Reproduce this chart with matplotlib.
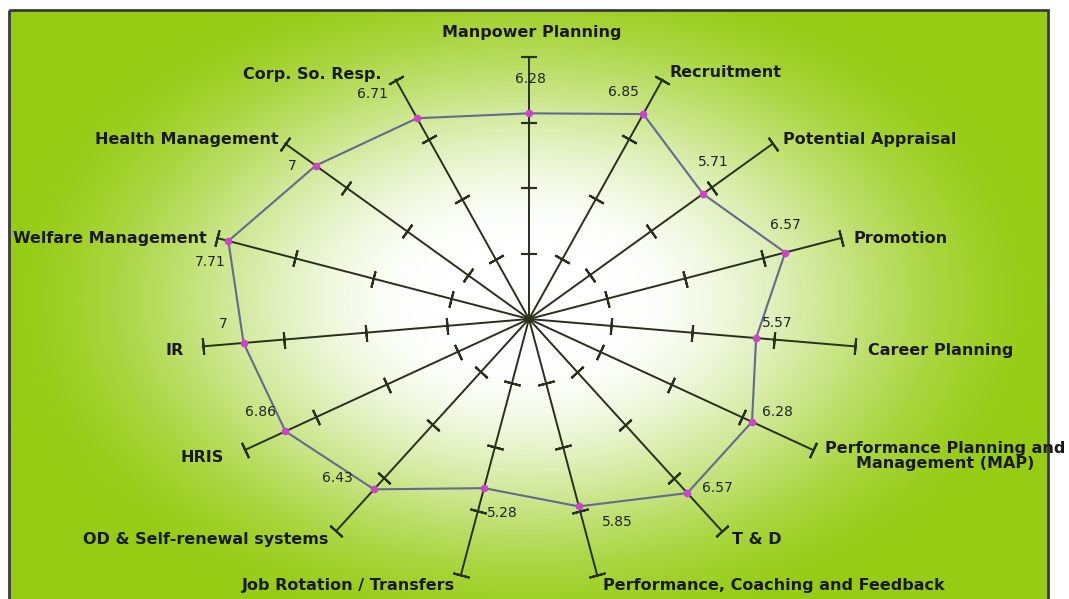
import numpy as np
import matplotlib
matplotlib.use('Agg')
import matplotlib.pyplot as plt
from matplotlib.patches import Rectangle

categories = ['Manpower Planning', 'Recruitment', 'Potential Appraisal', 'Promotion',
              'Career Planning', 'Performance Planning and\nManagement (MAP)', 'T & D',
              'Performance, Coaching and Feedback', 'Job Rotation / Transfers',
              'OD & Self-renewal systems', 'HRIS', 'IR', 'Welfare Management',
              'Health Management', 'Corp. So. Resp.']
values = [6.28, 6.85, 5.71, 6.57, 5.57, 6.28, 6.57, 5.85, 5.28, 6.43, 6.86, 7, 7.71, 7, 6.71]
value_labels = ['6.28', '6.85', '5.71', '6.57', '5.57', '6.28', '6.57', '5.85', '5.28',
                '6.43', '6.86', '7', '7.71', '7', '6.71']
r_ticks = [2, 4, 6, 8]
r_max = 8

# layout (pixels) - where the radar sits in the picture
W, H = 1069, 599
cx, cy, rx, ry = 529, 319, 328, 262

# label placement, offsets in pixels (x right, y up)
cat_off = [(3, 24, 'center'), (7, 7, 'left'), (10, 4, 'left'), (13, 0, 'left'),
           (13, -4, 'left'), (132, -6, 'center'), (10, -9, 'left'), (6, -10, 'left'),
           (-6, -10, 'right'), (-8, -9, 'right'), (-21, -7, 'right'), (-19, -4, 'right'),
           (-10, 0, 'right'), (-7, 4, 'right'), (-14, 5, 'right')]
val_off = [(1, 34), (-20, 22), (10, 32), (0, 28), (21, 15), (25, 10), (30, 5), (38, -16),
           (18, -25), (-37, 11), (-25, 19), (-20, 19), (-18, -21), (-23, 0), (-45, 24)]

fig = plt.figure(figsize=(W / 100, H / 100), dpi=100, facecolor='white')

# background: green radial gradient with a dark frame
bg = fig.add_axes([0, 0, 1, 1])
bg.set_xlim(0, W)
bg.set_ylim(H, 0)
bg.axis('off')
x0, x1, y0, y1 = 9, 1048, 10, 605
xx, yy = np.meshgrid(np.linspace(x0, x1, 400), np.linspace(y0, y1, 240))
t = np.sqrt(((xx - 525) / 600) ** 2 + ((yy - 300) / 390) ** 2)
t = np.clip((t - 0.15) / 0.75, 0, 1)
t = t * t * (3 - 2 * t)
white = np.array([1.0, 1.0, 1.0])
green = np.array([0x96, 0xCC, 0x14]) / 255
img = white[None, None, :] * (1 - t[..., None]) + green[None, None, :] * t[..., None]
bg.imshow(img, extent=(x0, x1, y1, y0), aspect='auto', interpolation='bilinear')
bg.add_patch(Rectangle((x0, y0), x1 - x0, y1 - y0, fill=False, edgecolor='#3a3a3a', lw=2))

# radar, stretched into an ellipse like the original
ax = fig.add_axes([(cx - rx) / W, (H - cy - ry) / H, 2 * rx / W, 2 * ry / H],
                  projection='polar')
ax.set_theta_zero_location('N')
ax.set_theta_direction(-1)
ax.set_aspect('auto')
ax.set_ylim(0, r_max)
ax.set_axis_off()
ax.patch.set_alpha(0)

n = len(categories)
theta = np.arange(n) * 2 * np.pi / n
axis_col = '#26301c'

for i, th in enumerate(theta):
    ax.plot([th, th], [0, r_max], color=axis_col, lw=1.4, zorder=2, clip_on=False)
    rot = np.degrees(np.arctan2(ry * np.cos(th), rx * np.sin(th)))
    for r in r_ticks:
        ax.plot(th, r, marker=(2, 2, rot), ms=12, mew=1.5, color=axis_col, zorder=2,
                clip_on=False)

th_closed = np.append(theta, theta[0])
v_closed = values + values[:1]
ax.plot(th_closed, v_closed, color='#626a90', lw=1.5, zorder=3, clip_on=False)
ax.plot(theta, values, ls='none', marker='o', ms=4.5, mfc='#cc44cc', mec='#cc44cc',
        zorder=4, clip_on=False)

for i, th in enumerate(theta):
    dx, dy, ha = cat_off[i]
    ax.annotate(categories[i], xy=(th, r_max), xytext=(dx, dy), textcoords='offset pixels',
                ha=ha, va='center', fontsize=11.5, fontweight='bold', color='#1a1a1a',
                multialignment='center', linespacing=1.05, annotation_clip=False)
    vx, vy = val_off[i]
    ax.annotate(value_labels[i], xy=(th, values[i]), xytext=(vx, vy), textcoords='offset pixels',
                ha='center', va='center', fontsize=10, color='#222222', annotation_clip=False)

fig.savefig('out.png', dpi=100)
